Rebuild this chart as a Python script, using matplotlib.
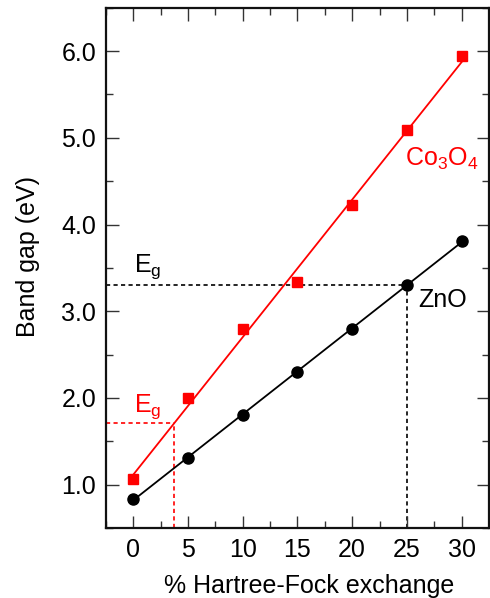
import numpy as np
import matplotlib
matplotlib.use("Agg")
import matplotlib.pyplot as plt
from matplotlib.ticker import MultipleLocator

plt.rcParams['font.family'] = ['Liberation Sans', 'DejaVu Sans']
plt.rcParams['mathtext.fontset'] = 'custom'
plt.rcParams['mathtext.rm'] = 'Liberation Sans'
plt.rcParams['mathtext.it'] = 'Liberation Sans'

hf = [0, 5, 10, 15, 20, 25, 30]
co3o4 = [1.07, 2.00, 2.80, 3.34, 4.22, 5.09, 5.94]
zno = [0.84, 1.31, 1.80, 2.30, 2.80, 3.30, 3.81]
zno_eg = 3.30
co3o4_eg = 1.71
xticks = [0, 5, 10, 15, 20, 25, 30]
yticks = [1.0, 2.0, 3.0, 4.0, 5.0, 6.0]

FS = 18

fig = plt.figure(figsize=(4.9, 5.98), dpi=100)
ax = fig.add_axes([0.216, 0.117, 0.782, 0.870])

xs = np.array([hf[0], hf[-1]])
pc = np.polyfit(hf, co3o4, 1)
pz = np.polyfit(hf, zno, 1)
ax.plot(xs, np.polyval(pc, xs), color='#ff0000', lw=1.3, zorder=2)
ax.plot(xs, np.polyval(pz, xs), color='black', lw=1.3, zorder=2)
ax.plot(hf, co3o4, 's', color='#ff0000', ms=7, zorder=3)
ax.plot(hf, zno, 'o', color='black', ms=8, zorder=3)

xlim = (-2.5, 32.5)
ylim = (0.5, 6.5)
dash = (0, (2.5, 2))
# ZnO band gap
x_z = (zno_eg - pz[1]) / pz[0]
ax.plot([xlim[0], x_z], [zno_eg, zno_eg], ls=dash, color='black', lw=1.2, zorder=1)
ax.plot([x_z, x_z], [ylim[0], zno_eg], ls=dash, color='black', lw=1.2, zorder=1)
# Co3O4 band gap
x_c = (co3o4_eg - pc[1]) / pc[0]
ax.plot([xlim[0], x_c], [co3o4_eg, co3o4_eg], ls=dash, color='#ff0000', lw=1.2, zorder=1)
ax.plot([x_c, x_c], [ylim[0], co3o4_eg], ls=dash, color='#ff0000', lw=1.2, zorder=1)

ax.text(0.1, 3.52, r'E$_\mathregular{g}$', fontsize=FS, color='black', ha='left', va='center')
ax.text(0.1, 1.9, r'E$_\mathregular{g}$', fontsize=FS, color='#ff0000', ha='left', va='center')
ax.text(26.0, 3.13, 'ZnO', fontsize=FS, color='black', ha='left', va='center')
ax.text(24.8, 4.76, r'Co$_\mathregular{3}$O$_\mathregular{4}$', fontsize=FS, color='#ff0000', ha='left', va='center')

ax.set_xlim(*xlim)
ax.set_ylim(*ylim)
ax.set_xticks(xticks)
ax.set_xticklabels([str(t) for t in xticks])
ax.set_yticks(yticks)
ax.set_yticklabels([f'{t:.1f}' for t in yticks])
ax.xaxis.set_minor_locator(MultipleLocator(2.5))
ax.yaxis.set_minor_locator(MultipleLocator(0.5))
ax.tick_params(which='both', direction='in', top=True, right=True, labelsize=FS, width=1.0, color='#333333')
ax.tick_params(which='major', length=9, pad=7)
ax.tick_params(which='minor', length=5)
for s in ax.spines.values():
    s.set_linewidth(1.6)
    s.set_color('#111111')
ax.set_xlabel('% Hartree-Fock exchange', fontsize=FS, labelpad=9)
ax.set_ylabel('Band gap (eV)', fontsize=FS, labelpad=15)
ax.xaxis.label.set_x(0.531)
ax.yaxis.label.set_y(0.521)

fig.savefig('out.png', dpi=100)
